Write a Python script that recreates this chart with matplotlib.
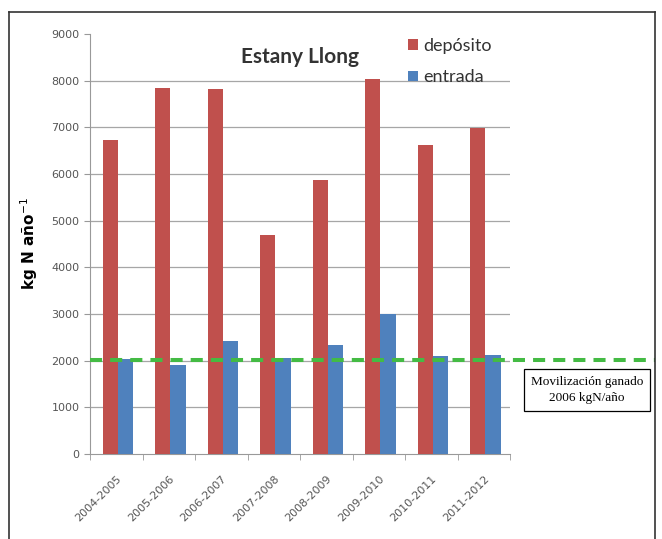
import matplotlib
matplotlib.use("Agg")
import matplotlib.pyplot as plt
import matplotlib.transforms as mtransforms
import numpy as np

categories = ["2004-2005", "2005-2006", "2006-2007", "2007-2008",
              "2008-2009", "2009-2010", "2010-2011", "2011-2012"]
deposito = [6730, 7850, 7820, 4700, 5880, 8030, 6630, 6980]
entrada = [2030, 1900, 2420, 2060, 2340, 3000, 2100, 2130]
ganado = 2006
yticks = [0, 1000, 2000, 3000, 4000, 5000, 6000, 7000, 8000, 9000]

W, H = 662, 539
fig = plt.figure(figsize=(W / 100, H / 100), dpi=100)
ax = fig.add_axes([90 / W, 1 - 454 / H, (510 - 90) / W, (454 - 34) / H])

x = np.arange(len(categories))
bw = 0.29
ax.bar(x - bw / 2 + 0.03, deposito, bw, color="#C0504D", label="depósito", zorder=3)
ax.bar(x + bw / 2 + 0.03, entrada, bw, color="#4F81BD", label="entrada", zorder=3)

ax.set_xlim(-0.5, len(categories) - 0.5)
ax.set_ylim(0, 9000)
ax.set_yticks(yticks)
ax.set_yticklabels([str(v) for v in yticks], fontsize=8, color="#555555")
ax.set_xticks(x)
ax.set_xticklabels(categories, rotation=45, ha="right", rotation_mode="anchor",
                   fontsize=8, color="#555555")
ax.tick_params(axis="y", length=4, color="#999999")
ax.tick_params(axis="x", length=0, pad=14)
ax.set_xticks(np.arange(-0.5, len(categories), 1), minor=True)
ax.tick_params(axis="x", which="minor", length=4, color="#999999")
for v in yticks[1:-1]:
    ax.axhline(v, color="#A6A6A6", linewidth=0.9, zorder=0)
for s in ["top", "right"]:
    ax.spines[s].set_visible(False)
for s in ["left", "bottom"]:
    ax.spines[s].set_color("#999999")

ax.set_ylabel("kg N año$^{-1}$", fontsize=11, fontweight="bold", labelpad=8)
ax.text(0.5, (454 - 57) / 420, "Estany Llong", transform=ax.transAxes, ha="center",
        va="center", fontsize=15, fontweight="bold", color="#333333", family="Lato")
leg = ax.legend(loc="upper left", bbox_to_anchor=((408 - 90) / 420, (454 - 38) / 420),
                frameon=False, borderaxespad=0, borderpad=0,
                prop={"family": "Lato", "size": 13}, handlelength=0.55, handleheight=0.55,
                handletextpad=0.3, labelspacing=0.85)
for t in leg.get_texts():
    t.set_color("#333333")

trans = mtransforms.blended_transform_factory(fig.transFigure, ax.transData)
ax.plot([90 / W, 655 / W], [ganado, ganado], transform=trans, color="#44BB44",
        linestyle=(0, (3, 2)), linewidth=2.9, clip_on=False, zorder=5)

fig.text(587 / W, 1 - 390 / H, "Movilización ganado\n2006 kgN/año",
         ha="center", va="center", fontsize=9.5, family="Liberation Serif",
         linespacing=1.45,
         bbox=dict(boxstyle="square,pad=0.55", fc="white", ec="black", lw=0.9))

# outer frame
fig.add_artist(plt.Line2D([9 / W, 9 / W], [0, 1 - 12 / H], transform=fig.transFigure,
                          color="#333333", lw=1.2))
fig.add_artist(plt.Line2D([9 / W, 655 / W], [1 - 12 / H, 1 - 12 / H],
                          transform=fig.transFigure, color="#333333", lw=1.2))
fig.add_artist(plt.Line2D([655 / W, 655 / W], [0, 1 - 12 / H], transform=fig.transFigure,
                          color="#333333", lw=1.2))

fig.savefig("out.png", dpi=100)
